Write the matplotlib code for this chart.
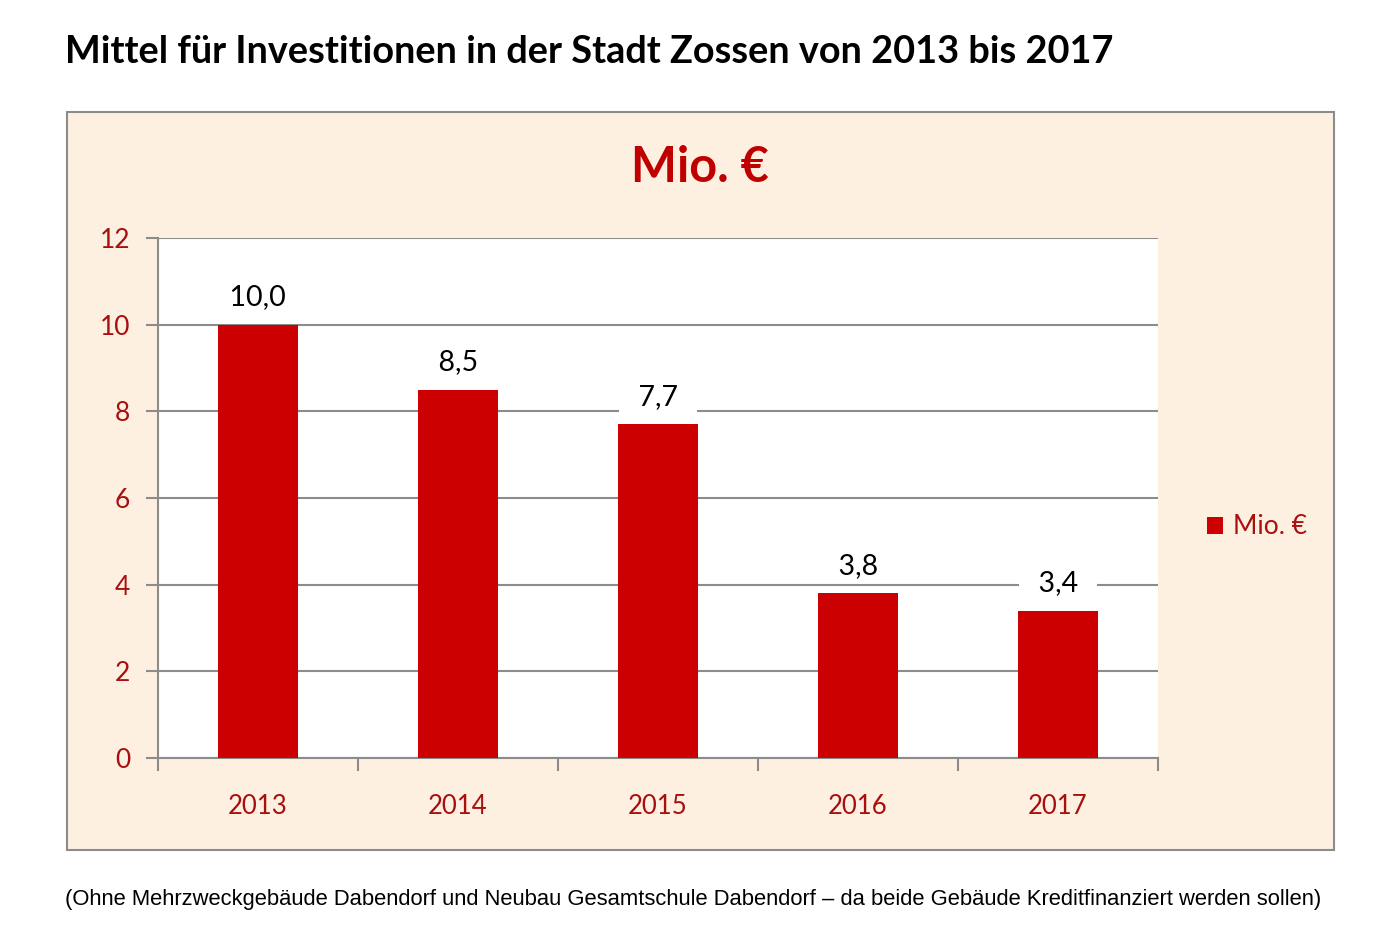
import matplotlib
matplotlib.use("Agg")
import matplotlib.pyplot as plt
from matplotlib.patches import Rectangle
import numpy as np

jahre = ["2013", "2014", "2015", "2016", "2017"]
mittel = [10.0, 8.5, 7.7, 3.8, 3.4]
y_ticks = [0, 2, 4, 6, 8, 10, 12]

rot = "#CC0000"
dunkelrot = "#A80F0F"
grau = "#8C8C8C"
hintergrund = "#FEF0E0"

plt.rcParams["font.family"] = ["Lato", "DejaVu Sans"]

fig = plt.figure(figsize=(13.93, 9.34), dpi=100)

# Diagrammbereich mit Rahmen (hinter der Achse)
fig.patches.append(Rectangle((0.0481, 0.0899), 0.9095, 0.7901, transform=fig.transFigure,
                             facecolor=hintergrund, edgecolor=grau, linewidth=1.5, zorder=-10))

ax = fig.add_axes([0.1134, 0.1884, 0.7179, 0.5568])
ax.set_facecolor("white")

x = np.arange(len(jahre))
balken = ax.bar(x, mittel, 0.4, color=rot, zorder=3, label="Mio. €")

for xi, wert in zip(x, mittel):
    text = f"{wert:.1f}".replace(".", ",")
    ax.annotate(f"  {text}  ", (xi, wert), xytext=(0, 20),
                textcoords="offset points", ha="center", va="center", fontsize=20.5,
                color="black", zorder=5,
                bbox=dict(boxstyle="square,pad=0.15", facecolor="white", edgecolor="none"))

ax.set_xlim(-0.5, len(jahre) - 0.5)
ax.set_ylim(0, 12)
ax.set_yticks(y_ticks)
ax.set_yticklabels([str(t) for t in y_ticks])
ax.yaxis.grid(True, color=grau, linewidth=1.5, zorder=1)
ax.set_axisbelow(True)

ax.set_xticks(x)
ax.set_xticklabels(jahre)
ax.set_xticks(np.arange(-0.5, len(jahre)), minor=True)
ax.tick_params(axis="x", which="major", length=0, pad=26, labelsize=18.5, labelcolor=dunkelrot)
ax.tick_params(axis="x", which="minor", length=9, width=1.5, color=grau, direction="out")
ax.tick_params(axis="y", length=9, width=1.5, color=grau, pad=11, labelsize=19, labelcolor=dunkelrot)

for s in ["top", "right"]:
    ax.spines[s].set_visible(False)
for s in ["left", "bottom"]:
    ax.spines[s].set_color(grau)
    ax.spines[s].set_linewidth(1.5)

ax.legend(loc="center left", bbox_to_anchor=(1183 / 1393, 1 - 527 / 934),
          bbox_transform=fig.transFigure, frameon=False, fontsize=19,
          handlelength=0.6, handleheight=0.6, handletextpad=0.4, labelcolor=dunkelrot)

fig.text(0.5025, 1 - 168 / 934, "Mio. €", ha="center", va="center", fontsize=35,
         fontweight="bold", color="#C00000")

fig.text(0.0467, 1 - 52 / 934, "Mittel für Investitionen in der Stadt Zossen von 2013 bis 2017",
         ha="left", va="center", fontsize=27.3, fontweight="bold", color="black")

fig.text(0.0467, 1 - 900 / 934,
         "(Ohne Mehrzweckgebäude Dabendorf und Neubau Gesamtschule Dabendorf – da beide Gebäude Kreditfinanziert werden sollen)",
         ha="left", va="center", fontsize=15.85, color="black", family="Liberation Sans")

fig.savefig("out.png", dpi=100)
